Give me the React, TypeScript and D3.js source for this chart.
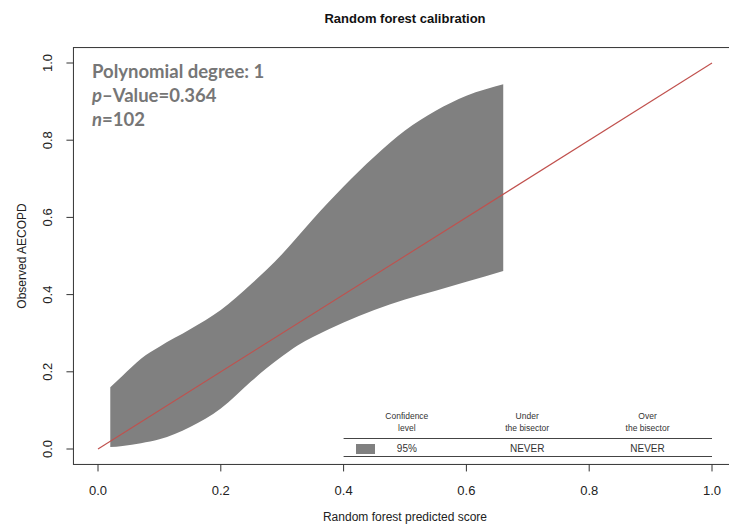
import React from "react";
import * as d3 from "d3";

const W = 729;
const H = 526;

// calibration band (95% confidence)
const bandX = [0.02, 0.04, 0.07, 0.10, 0.15, 0.20, 0.25, 0.275, 0.30, 0.325, 0.35, 0.40, 0.45, 0.50, 0.55, 0.60, 0.66];
const bandUpper = [0.160, 0.190, 0.234, 0.265, 0.310, 0.360, 0.428, 0.465, 0.505, 0.550, 0.595, 0.680, 0.757, 0.825, 0.876, 0.915, 0.945];
const bandLower = [0.005, 0.008, 0.015, 0.025, 0.057, 0.105, 0.176, 0.210, 0.240, 0.268, 0.290, 0.328, 0.360, 0.387, 0.410, 0.433, 0.461];

const bisector = [0, 1];
const xTicks = [0, 0.2, 0.4, 0.6, 0.8, 1.0];
const yTicks = [0, 0.2, 0.4, 0.6, 0.8, 1.0];

const annotation = ["Polynomial degree: 1", "p", "\u2013Value=0.364", "n", "=102"];
const legendHeaders = [["Confidence", "level"], ["Under", "the bisector"], ["Over", "the bisector"]];
const legendRow = ["95%", "NEVER", "NEVER"];

export default function App() {
  const x = d3.scaleLinear().domain([0, 1]).range([98, 712]);
  const y = d3.scaleLinear().domain([0, 1]).range([449, 63]);
  const x0 = x(-0.04), x1 = x(1.04), y0 = y(-0.04), y1 = y(1.04);

  const pts = bandX.map((v, i) => ({ x: v, lo: bandLower[i], hi: bandUpper[i] }));
  const area = d3
    .area<{ x: number; lo: number; hi: number }>()
    .x((d) => x(d.x))
    .y0((d) => y(d.lo))
    .y1((d) => y(d.hi))
    .curve(d3.curveMonotoneX);

  const line = d3.line<number>().x((d) => x(d)).y((d) => y(d));

  const axisColor = "#333";
  const font = "'Liberation Sans', Arial, sans-serif";
  const colX = [x(0.503), x(0.699), x(0.895)];

  return (
    <svg width={W} height={H} style={{ position: "absolute", left: 0, top: 0, background: "#fff" }} fontFamily={font}>
      <text x={(x0 + x1) / 2} y={23} textAnchor="middle" fontSize={13} fontWeight="bold" fill="#111">
        Random forest calibration
      </text>

      <path d={area(pts) || ""} fill="#808080" />
      <path d={line(bisector) || ""} stroke="#c0504d" strokeWidth={1.1} fill="none" />

      <rect x={x0} y={y1} width={x1 - x0} height={y0 - y1} fill="none" stroke={axisColor} strokeWidth={1} />

      {xTicks.map((t) => (
        <g key={"x" + t}>
          <line x1={x(t)} x2={x(t)} y1={y0} y2={y0 + 7} stroke={axisColor} />
          <text x={x(t)} y={495} textAnchor="middle" fontSize={13} fill="#222">
            {t.toFixed(1)}
          </text>
        </g>
      ))}
      {yTicks.map((t) => (
        <g key={"y" + t}>
          <line x1={x0} x2={x0 - 7} y1={y(t)} y2={y(t)} stroke={axisColor} />
          <text transform={`translate(${52},${y(t)}) rotate(-90)`} textAnchor="middle" fontSize={13} fill="#222">
            {t.toFixed(1)}
          </text>
        </g>
      ))}

      <text x={(x0 + x1) / 2} y={521} textAnchor="middle" fontSize={12} fill="#222">
        Random forest predicted score
      </text>
      <text transform={`translate(${26},${256}) rotate(-90)`} textAnchor="middle" fontSize={12} fill="#222">
        Observed AECOPD
      </text>

      <g fontFamily="Lato, 'Open Sans', sans-serif" fontWeight="bold" fontSize={18.5} fill="#767676">
        <text x={92} y={78}>{annotation[0]}</text>
        <text x={92} y={102}>
          <tspan fontStyle="italic">{annotation[1]}</tspan>
          <tspan>{annotation[2]}</tspan>
        </text>
        <text x={92} y={126}>
          <tspan fontStyle="italic">{annotation[3]}</tspan>
          <tspan>{annotation[4]}</tspan>
        </text>
      </g>

      <g fontSize={8.5} fill="#333" textAnchor="middle">
        {legendHeaders.map((h, i) => (
          <g key={"h" + i}>
            <text x={colX[i]} y={419}>{h[0]}</text>
            <text x={colX[i]} y={431}>{h[1]}</text>
          </g>
        ))}
      </g>
      <line x1={x(0.4)} x2={x(1.0)} y1={438.5} y2={438.5} stroke="#444" />
      <line x1={x(0.4)} x2={x(1.0)} y1={456.5} y2={456.5} stroke="#444" />
      <rect x={356} y={444} width={19} height={10} fill="#808080" />
      <g fontSize={10} fill="#333" textAnchor="middle">
        {legendRow.map((r, i) => (
          <text key={"r" + i} x={colX[i]} y={452}>{r}</text>
        ))}
      </g>
    </svg>
  );
}
